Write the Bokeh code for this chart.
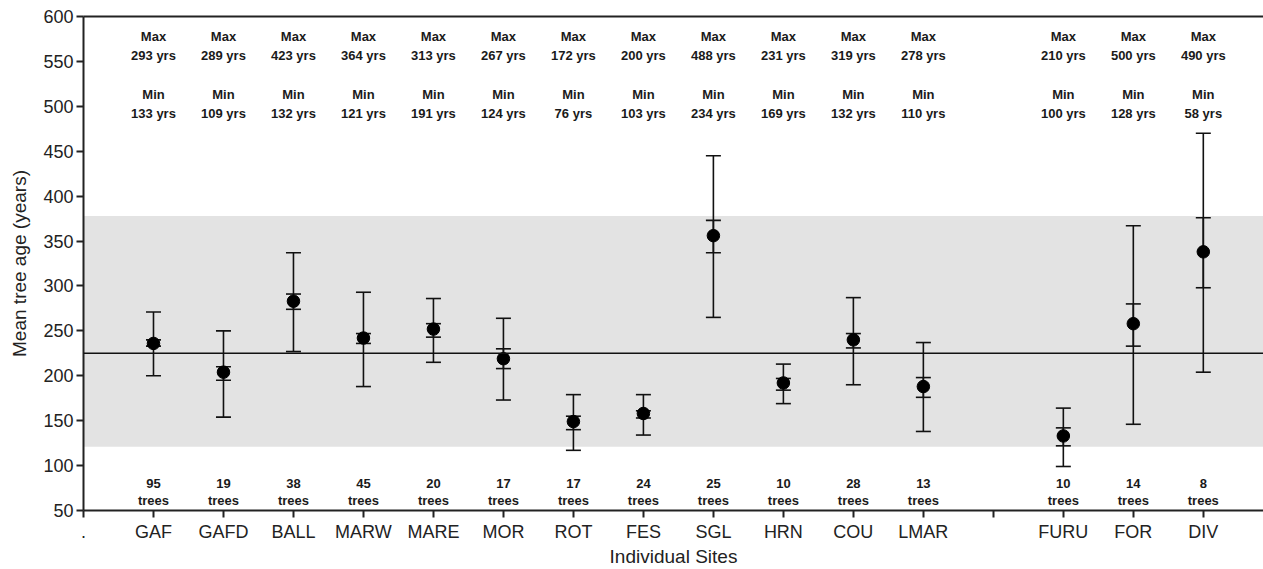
from bokeh.plotting import figure
from bokeh.models import (ColumnDataSource, Whisker, TeeHead, BoxAnnotation, Span,
                          FixedTicker, LinearAxis, Range1d)
from bokeh.core.properties import value
from bokeh.embed import file_html
from bokeh.resources import INLINE

# ---- data ----
tick_labels = [".", "GAF", "GAFD", "BALL", "MARW", "MARE", "MOR", "ROT", "FES", "SGL",
               "HRN", "COU", "LMAR", "", "FURU", "FOR", "DIV"]
sites = ["GAF", "GAFD", "BALL", "MARW", "MARE", "MOR", "ROT", "FES", "SGL", "HRN",
         "COU", "LMAR", "FURU", "FOR", "DIV"]
mean_age = [236, 204, 283, 242, 252, 219, 149, 158, 356, 192, 240, 188, 133, 258, 338]
inner_hi = [240, 210, 291, 247, 258, 230, 155, 161, 373, 197, 247, 198, 142, 280, 376]
inner_lo = [233, 195, 274, 236, 243, 208, 140, 153, 337, 184, 231, 176, 122, 233, 298]
outer_hi = [271, 250, 337, 293, 286, 264, 179, 179, 445, 213, 287, 237, 164, 367, 470]
outer_lo = [200, 154, 227, 188, 215, 173, 117, 134, 265, 169, 190, 138, 99, 146, 204]
max_age = [293, 289, 423, 364, 313, 267, 172, 200, 488, 231, 319, 278, 210, 500, 490]
min_age = [133, 109, 132, 121, 191, 124, 76, 103, 234, 169, 132, 110, 100, 128, 58]
n_trees = [95, 19, 38, 45, 20, 17, 17, 24, 25, 10, 28, 13, 10, 14, 8]
band_low, band_high = 121, 378
overall_mean = 225
y_ticks = [50, 100, 150, 200, 250, 300, 350, 400, 450, 500, 550, 600]

xs = [tick_labels.index(s) for s in sites]

src = ColumnDataSource(dict(
    x=xs, mean=mean_age, ihi=inner_hi, ilo=inner_lo, ohi=outer_hi, olo=outer_lo,
    max_txt=[f"{v} yrs" for v in max_age], min_txt=[f"{v} yrs" for v in min_age],
    n_txt=[str(v) for v in n_trees],
    max_lbl=["Max"] * len(sites), min_lbl=["Min"] * len(sites), trees=["trees"] * len(sites),
    y_maxlbl=[578] * len(sites), y_maxval=[557] * len(sites),
    y_minlbl=[513] * len(sites), y_minval=[492] * len(sites),
    y_n=[80] * len(sites), y_tr=[61.5] * len(sites),
))

FONT = "Liberation Sans"

p = figure(width=1263, height=569, output_backend="svg", toolbar_location=None,
           x_range=Range1d(0, 16.86), y_range=Range1d(50, 600),
           min_border_left=83, min_border_right=0, min_border_top=16, min_border_bottom=58)
p.grid.visible = False
p.outline_line_color = None
p.background_fill_color = "white"

# shaded band and mean line
p.add_layout(BoxAnnotation(bottom=band_low, top=band_high, fill_color="#e3e3e3",
                           fill_alpha=1.0, line_color=None, level="underlay"))
p.add_layout(Span(location=overall_mean, dimension="width", line_color="#111111",
                  line_width=1.6))

# error bars
def head():
    return TeeHead(size=15, line_color="#111111", line_width=1.6)

outer = Whisker(source=src, base="x", lower="olo", upper="ohi", line_color="#111111",
                line_width=1.6, upper_head=head(), lower_head=head())
inner = Whisker(source=src, base="x", lower="ilo", upper="ihi", line_color="#111111",
                line_width=1.6, upper_head=head(), lower_head=head())
p.add_layout(outer)
p.add_layout(inner)

p.scatter("x", "mean", source=src, size=12.5, color="black")

# annotations
tkw = dict(source=src, text_font=value(FONT), text_font_style="bold",
           text_font_size="13px", text_color="#1a1a1a", text_align="center",
           text_baseline="middle")
p.text("x", "y_maxlbl", text="max_lbl", **tkw)
p.text("x", "y_maxval", text="max_txt", **tkw)
p.text("x", "y_minlbl", text="min_lbl", **tkw)
p.text("x", "y_minval", text="min_txt", **tkw)
p.text("x", "y_n", text="n_txt", **tkw)
p.text("x", "y_tr", text="trees", **tkw)

# axes
for ax in (p.xaxis[0], p.yaxis[0]):
    ax.axis_line_color = "#222222"
    ax.axis_line_width = 2
    ax.major_tick_line_color = "#222222"
    ax.major_tick_line_width = 2
    ax.major_tick_out = 7
    ax.major_tick_in = 0
    ax.minor_tick_line_color = None
    ax.major_label_text_font = FONT
    ax.major_label_text_font_size = "18px"
    ax.major_label_text_color = "#222222"
    ax.axis_label_text_font = FONT
    ax.axis_label_text_font_size = "19px"
    ax.axis_label_text_font_style = "normal"
    ax.axis_label_text_color = "#222222"

p.xaxis.ticker = FixedTicker(ticks=list(range(len(tick_labels))))
p.xaxis.major_label_overrides = {i: t for i, t in enumerate(tick_labels)}
p.xaxis.axis_label = "Individual Sites"
p.xaxis.major_label_standoff = 4
p.xaxis.axis_label_standoff = 1

p.yaxis.ticker = FixedTicker(ticks=y_ticks)
p.yaxis.axis_label = "Mean tree age (years)"
p.yaxis.major_label_standoff = 3
p.yaxis.axis_label_standoff = 10

top = LinearAxis(axis_line_color="#222222", axis_line_width=2, major_tick_line_color=None,
                 minor_tick_line_color=None, major_label_standoff=0,
                 ticker=FixedTicker(ticks=[]))
p.add_layout(top, "above")

open("out.html", "w").write(file_html(p, INLINE))
